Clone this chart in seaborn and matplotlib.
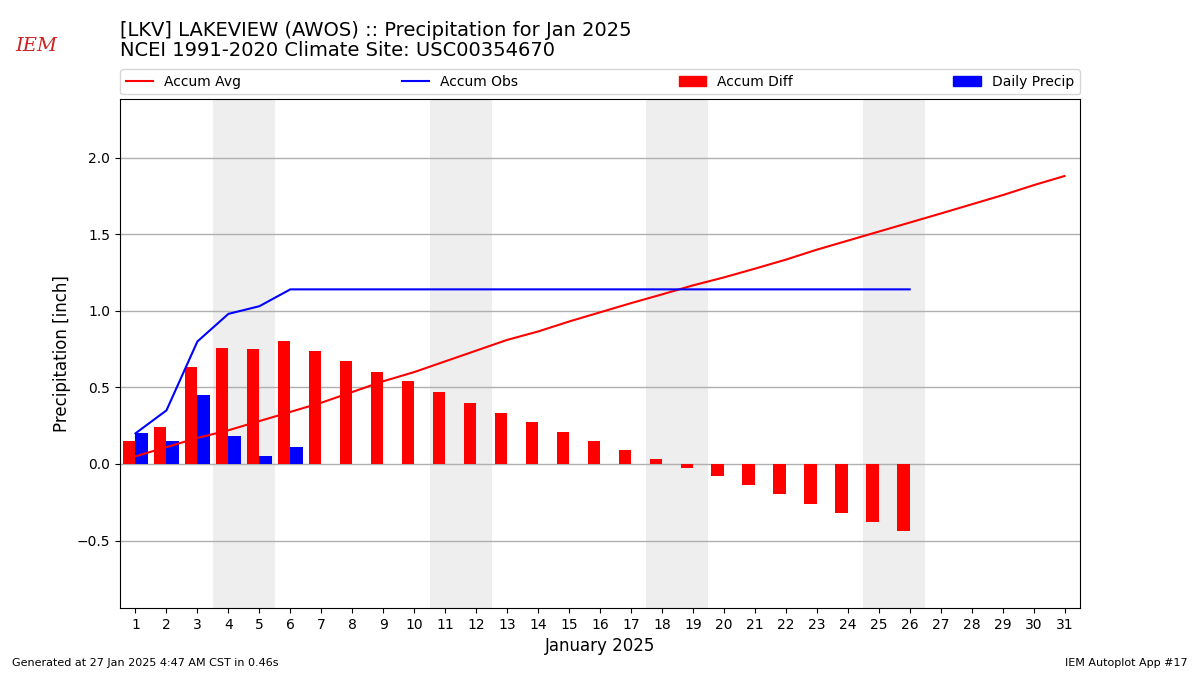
import matplotlib
matplotlib.use("Agg")
import matplotlib.pyplot as plt
import seaborn as sns
import pandas as pd
import numpy as np
from matplotlib.patches import Patch
from matplotlib.lines import Line2D

days = list(range(1, 32))
accum_avg = [0.05, 0.11, 0.17, 0.22, 0.28, 0.34, 0.40, 0.47, 0.54, 0.60,
             0.67, 0.74, 0.81, 0.865, 0.93, 0.99, 1.05, 1.107, 1.166, 1.218,
             1.275, 1.334, 1.399, 1.458, 1.517, 1.576, 1.635, 1.695, 1.755, 1.82, 1.88]
obs_days = list(range(1, 27))
accum_obs = [0.20, 0.35, 0.80, 0.98, 1.03, 1.14, 1.14, 1.14, 1.14, 1.14,
             1.14, 1.14, 1.14, 1.14, 1.14, 1.14, 1.14, 1.14, 1.14, 1.14,
             1.14, 1.14, 1.14, 1.14, 1.14, 1.14]
accum_diff = [0.15, 0.24, 0.63, 0.76, 0.75, 0.80, 0.74, 0.67, 0.60, 0.54,
              0.47, 0.40, 0.33, 0.275, 0.21, 0.15, 0.09, 0.033, -0.026, -0.078,
              -0.135, -0.194, -0.259, -0.318, -0.377, -0.436]
daily_precip = [0.20, 0.15, 0.45, 0.18, 0.05, 0.11, 0, 0, 0, 0,
                0, 0, 0, 0, 0, 0, 0, 0, 0, 0,
                0, 0, 0, 0, 0, 0]
weekends = [(3.5, 5.5), (10.5, 12.5), (17.5, 19.5), (24.5, 26.5)]

bars = pd.DataFrame({
    "day": obs_days * 2,
    "value": accum_diff + daily_precip,
    "series": ["Accum Diff"] * len(obs_days) + ["Daily Precip"] * len(obs_days),
})

fig = plt.figure(figsize=(12, 6.75), dpi=100)
ax = fig.add_axes([0.1, 0.0993, 0.8, 0.7534])
ax.set_axisbelow(True)

for a, b in weekends:
    ax.axvspan(a, b, color="#eeeeee", zorder=0, lw=0)

sns.barplot(data=bars, x="day", y="value", hue="series", native_scale=True,
            dodge=True, width=0.8, palette={"Accum Diff": "red", "Daily Precip": "blue"},
            errorbar=None, ax=ax, legend=False, saturation=1, linewidth=0, zorder=2)

sns.lineplot(x=days, y=accum_avg, color="red", ax=ax, lw=1.5, zorder=3)
sns.lineplot(x=obs_days, y=accum_obs, color="blue", ax=ax, lw=1.5, zorder=3)

ax.set_xlim(0.5, 31.5)
ax.set_ylim(-0.94, 2.38)
ax.set_xticks(days)
ax.set_xticklabels([str(d) for d in days])
ax.set_yticks([-0.5, 0.0, 0.5, 1.0, 1.5, 2.0])
ax.grid(axis="y", color="#b0b0b0", lw=1)
ax.grid(axis="x", visible=False)
ax.set_xlabel("January 2025", fontsize=12)
ax.set_ylabel("Precipitation [inch]", fontsize=12)
ax.tick_params(labelsize=10)

handles = [Line2D([], [], color="red", lw=1.5), Line2D([], [], color="blue", lw=1.5),
           Patch(color="red"), Patch(color="blue")]
labels = ["Accum Avg", "Accum Obs", "Accum Diff", "Daily Precip"]
ax.legend(handles, labels, loc="lower left", bbox_to_anchor=(0, 1.01, 1, 0.05),
          mode="expand", ncol=4, fontsize=10, borderaxespad=0)

fig.text(0.1, 0.955, "[LKV] LAKEVIEW (AWOS) :: Precipitation for Jan 2025", fontsize=14,
         va="center", ha="left")
fig.text(0.1, 0.925, "NCEI 1991-2020 Climate Site: USC00354670", fontsize=14,
         va="center", ha="left")
fig.text(0.03, 0.932, "IEM", fontsize=14, color="#cc2222", style="italic",
         family="DejaVu Serif", ha="center", va="center")
fig.text(0.01, 0.013, "Generated at 27 Jan 2025 4:47 AM CST in 0.46s", fontsize=8)
fig.text(0.99, 0.013, "IEM Autoplot App #17", fontsize=8, ha="right")

fig.savefig("out.png", dpi=100)
